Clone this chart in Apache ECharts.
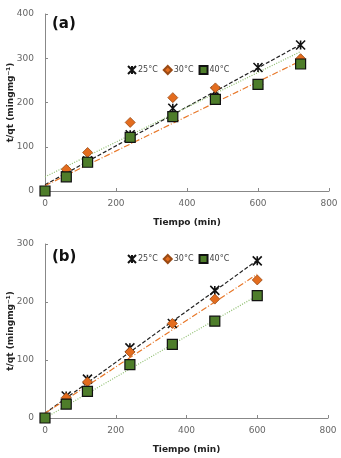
<!DOCTYPE html>
<html>
<head>
<meta charset="utf-8">
<script src="https://cdn.jsdelivr.net/npm/echarts@6/dist/echarts.min.js"></script>
<style>
html, body { margin: 0; padding: 0; background: #fff; }
#chart { width: 341px; height: 458px; }
</style>
</head>
<body>
<div id="chart"></div>
<script>
// datos de cinética (t/qt vs tiempo)
var timeA = [0, 60, 120, 240, 360, 480, 600, 720];
var a25 = [0, 35, 68, 127, 187, 225, 279, 330];
var a30 = [0, 49, 87, 155, 211, 233, 240, 299];
var a40 = [0, 32, 65, 121, 168, 207, 241, 287];
// rectas de ajuste (extremos)
var fitA25 = [[0, 14], [720, 331]];
var fitA30 = [[0, 12], [720, 294]];
var fitA40 = [[0, 32], [720, 315]];

var timeB = [0, 60, 120, 240, 360, 480, 600];
var b25 = [0, 38, 67, 121, 163, 220, 271];
var b30 = [0, 35, 62, 114, 163, 205, 238];
var b40 = [0, 24, 46, 92, 127, 167, 211];
var fitB25 = [[0, 8], [600, 272]];
var fitB30 = [[0, 8], [600, 248]];
var fitB40 = [[0, 0], [600, 211]];

var xTicks = [0, 200, 400, 600, 800];
var yTicksA = [0, 100, 200, 300, 400];
var yTicksB = [0, 100, 200, 300];

var names = ['25°C', '30°C', '40°C'];
var FONT = 'DejaVu Sans';
var starPath = 'path://M0,0L10,10M10,0L0,10M5,0L5,10';

function pairs(xs, ys) {
    return xs.map(function (x, i) { return [x, ys[i]]; });
}

function scatter(name, idx, xs, ys) {
    var s = { name: name, type: 'scatter', xAxisIndex: idx, yAxisIndex: idx, data: pairs(xs, ys), z: 5 };
    if (name === '25°C') {
        s.symbol = starPath; s.symbolSize = 9;
        s.itemStyle = { color: 'rgba(0,0,0,0)', borderColor: '#111', borderWidth: 1.6, opacity: 1 };
    } else if (name === '30°C') {
        s.symbol = 'diamond'; s.symbolSize = 10;
        s.itemStyle = { color: '#e36c1e', borderColor: '#9a4a14', borderWidth: 0.8, opacity: 1 };
    } else {
        s.symbol = 'rect'; s.symbolSize = 10;
        s.itemStyle = { color: '#4e7d2a', borderColor: '#111', borderWidth: 1.2, opacity: 1 };
    }
    return s;
}

function fit(idx, pts, color, type) {
    return {
        type: 'line', xAxisIndex: idx, yAxisIndex: idx, data: pts, symbol: 'none',
        silent: true, z: 3,
        lineStyle: { color: color, width: 1.2, type: type }
    };
}

function xAxis(idx) {
    return {
        type: 'value', gridIndex: idx, min: xTicks[0], max: xTicks[xTicks.length - 1], interval: 200,
        name: 'Tiempo (min)', nameLocation: 'middle', nameGap: 27, nameMoveOverlap: false,
        nameTextStyle: { fontFamily: FONT, fontSize: 9, fontWeight: 'bold', color: '#222' },
        axisLine: { lineStyle: { color: '#888', width: 1 } },
        axisTick: { show: true, inside: true, length: 3, lineStyle: { color: '#888' } },
        axisLabel: { fontFamily: FONT, fontSize: 9, color: '#666', margin: 8 },
        splitLine: { show: false }
    };
}

function yAxis(idx, ticks) {
    return {
        type: 'value', gridIndex: idx, min: ticks[0], max: ticks[ticks.length - 1], interval: 100,
        name: 't/qt (mingmg\u207B\u00B9)', nameLocation: 'middle', nameGap: 30, nameRotate: 90,
        nameMoveOverlap: false,
        nameTextStyle: { fontFamily: FONT, fontSize: 9, fontWeight: 'bold', color: '#222' },
        axisLine: { show: true, lineStyle: { color: '#888', width: 1 } },
        axisTick: { show: true, inside: true, length: 3, lineStyle: { color: '#888' } },
        axisLabel: { fontFamily: FONT, fontSize: 9, color: '#666', margin: 11 },
        splitLine: { show: false }
    };
}

function legend(top) {
    return {
        data: names, left: 122, top: top, itemGap: 5, itemWidth: 8, itemHeight: 8,
        selectedMode: false,
        textStyle: { fontFamily: FONT, fontSize: 8, color: '#444', padding: [0, 0, 0, -3] }
    };
}

var myChart = echarts.init(document.getElementById('chart'));
var option = {
    animation: false,
    backgroundColor: '#fff',
    title: [
        { text: '(a)', left: 47, top: 12, textStyle: { fontFamily: FONT, fontSize: 15, fontWeight: 'bold', color: '#111' } },
        { text: '(b)', left: 47, top: 245, textStyle: { fontFamily: FONT, fontSize: 15, fontWeight: 'bold', color: '#111' } }
    ],
    legend: [legend(60), legend(249)],
    grid: [
        { left: 45, top: 14, width: 284, height: 177, outerBoundsMode: 'none' },
        { left: 45, top: 244, width: 283, height: 174, outerBoundsMode: 'none' }
    ],
    xAxis: [xAxis(0), xAxis(1)],
    yAxis: [yAxis(0, yTicksA), yAxis(1, yTicksB)],
    series: [
        fit(0, fitA25, '#222', [4, 2]),
        fit(0, fitA30, '#e8782a', [6, 2, 1, 2]),
        fit(0, fitA40, '#8fbf70', [1, 1.5]),
        scatter('25°C', 0, timeA, a25),
        scatter('30°C', 0, timeA, a30),
        scatter('40°C', 0, timeA, a40),
        fit(1, fitB25, '#222', [4, 2]),
        fit(1, fitB30, '#e8782a', [6, 2, 1, 2]),
        fit(1, fitB40, '#8fbf70', [1, 1.5]),
        scatter('25°C', 1, timeB, b25),
        scatter('30°C', 1, timeB, b30),
        scatter('40°C', 1, timeB, b40)
    ]
};
myChart.setOption(option);
</script>
</body>
</html>
